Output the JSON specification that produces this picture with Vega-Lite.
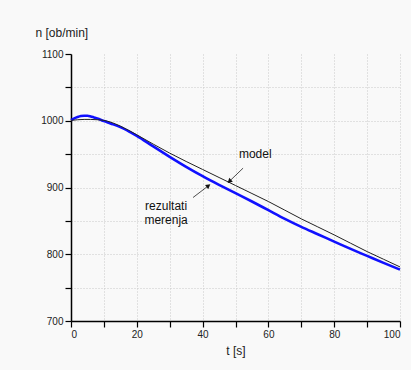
{
  "$schema": "https://vega.github.io/schema/vega-lite/v6.json",
  "width": 329,
  "height": 267,
  "autosize": {"type": "none"},
  "padding": {"left": 71, "top": 54, "right": 11, "bottom": 49},
  "background": "#f9f9f9",
  "config": {
    "view": {"stroke": null},
    "font": "Liberation Sans",
    "axis": {
      "domainColor": "#000000",
      "domainWidth": 1.5,
      "tickColor": "#000000",
      "tickWidth": 1.2,
      "tickSize": 6,
      "labelFont": "Liberation Sans",
      "labelFontSize": 10,
      "labelColor": "#222222",
      "titleFont": "Liberation Sans",
      "titleFontWeight": "normal",
      "titleFontSize": 12,
      "titleColor": "#222222",
      "gridColor": "#c8c8c8",
      "gridDash": [1, 2],
      "gridWidth": 1
    }
  },
  "datasets": {
    "mer": [
      {"t": 0, "n": 1001}, {"t": 1, "n": 1003.5}, {"t": 2, "n": 1005.5}, {"t": 3, "n": 1007}, {"t": 4, "n": 1007.5},
      {"t": 5, "n": 1007.5}, {"t": 6, "n": 1006.5}, {"t": 7, "n": 1005}, {"t": 8, "n": 1003.5}, {"t": 10, "n": 999.5},
      {"t": 12, "n": 996}, {"t": 15, "n": 990.5}, {"t": 18, "n": 983}, {"t": 20, "n": 977.5}, {"t": 25, "n": 961.5},
      {"t": 30, "n": 946}, {"t": 35, "n": 931}, {"t": 40, "n": 917}, {"t": 45, "n": 904}, {"t": 50, "n": 891.5},
      {"t": 55, "n": 879}, {"t": 60, "n": 866}, {"t": 65, "n": 853}, {"t": 70, "n": 841}, {"t": 75, "n": 830},
      {"t": 80, "n": 819}, {"t": 85, "n": 808}, {"t": 90, "n": 797.5}, {"t": 95, "n": 787}, {"t": 100, "n": 777}
    ],
    "model": [
      {"t": 0, "n": 1000.5}, {"t": 2, "n": 1001.5}, {"t": 4, "n": 1002}, {"t": 6, "n": 1002}, {"t": 8, "n": 1001.5},
      {"t": 10, "n": 1000.5}, {"t": 12, "n": 998}, {"t": 15, "n": 992}, {"t": 20, "n": 979}, {"t": 25, "n": 965},
      {"t": 30, "n": 951.5}, {"t": 35, "n": 939}, {"t": 40, "n": 927}, {"t": 45, "n": 915}, {"t": 50, "n": 903},
      {"t": 55, "n": 891}, {"t": 60, "n": 879}, {"t": 65, "n": 866}, {"t": 70, "n": 853}, {"t": 75, "n": 841},
      {"t": 80, "n": 829}, {"t": 85, "n": 816.5}, {"t": 90, "n": 804}, {"t": 95, "n": 792.5}, {"t": 100, "n": 781}
    ],
    "labels": [
      {"t": 56, "n": 944, "txt": "model", "align": "center"},
      {"t": 28.9, "n": 866, "txt": "rezultati", "align": "left"},
      {"t": 28.9, "n": 845, "txt": "merenja", "align": "left"}
    ],
    "arrows": [
      {"t1": 52.3, "n1": 929, "t2": 48.3, "n2": 910, "ang": 227},
      {"t1": 37.1, "n1": 885, "t2": 41.6, "n2": 902, "ang": 53}
    ]
  },
  "encoding": {
    "x": {
      "field": "t", "type": "quantitative",
      "scale": {"domain": [0, 100], "nice": false},
      "axis": {
        "title": "t [s]",
        "values": [0, 10, 20, 30, 40, 50, 60, 70, 80, 90, 100],
        "labelExpr": "datum.value % 20 == 0 ? datum.label : ''",
        "labelPadding": 2,
        "titlePadding": 6,
        "grid": true
      }
    },
    "y": {
      "field": "n", "type": "quantitative",
      "scale": {"domain": [700, 1100], "nice": false, "zero": false},
      "axis": {
        "title": "n [ob/min]",
        "format": "d",
        "titleAngle": 0,
        "titleAlign": "left",
        "titleBaseline": "alphabetic",
        "titleX": -36,
        "titleY": -18,
        "values": [700, 750, 800, 850, 900, 950, 1000, 1050, 1100],
        "labelExpr": "datum.value % 100 == 0 ? datum.label : ''",
        "labelPadding": 2,
        "grid": true,
        "gridOpacity": {"condition": {"test": "datum.value == 1100", "value": 0}, "value": 1}
      }
    }
  },
  "layer": [
    {
      "data": {"name": "mer"},
      "mark": {"type": "line", "color": "#1010ff", "strokeWidth": 2.6, "interpolate": "monotone"}
    },
    {
      "data": {"name": "model"},
      "mark": {"type": "line", "color": "#222222", "strokeWidth": 1, "interpolate": "monotone"}
    },
    {
      "data": {"name": "labels"},
      "mark": {"type": "text", "fontSize": 12, "color": "#111111", "baseline": "alphabetic"},
      "encoding": {
        "text": {"field": "txt"},
        "align": {"field": "align", "type": "nominal", "scale": null}
      }
    },
    {
      "data": {"name": "arrows"},
      "mark": {"type": "rule", "color": "#222222", "strokeWidth": 0.8},
      "encoding": {
        "x": {"field": "t1", "type": "quantitative"},
        "y": {"field": "n1", "type": "quantitative"},
        "x2": {"field": "t2"},
        "y2": {"field": "n2"}
      }
    },
    {
      "data": {"name": "arrows"},
      "mark": {"type": "point", "shape": "triangle", "filled": true, "color": "#111111", "size": 28, "opacity": 1},
      "encoding": {
        "x": {"field": "t2", "type": "quantitative"},
        "y": {"field": "n2", "type": "quantitative"},
        "angle": {"field": "ang", "type": "quantitative", "scale": null}
      }
    }
  ]
}
